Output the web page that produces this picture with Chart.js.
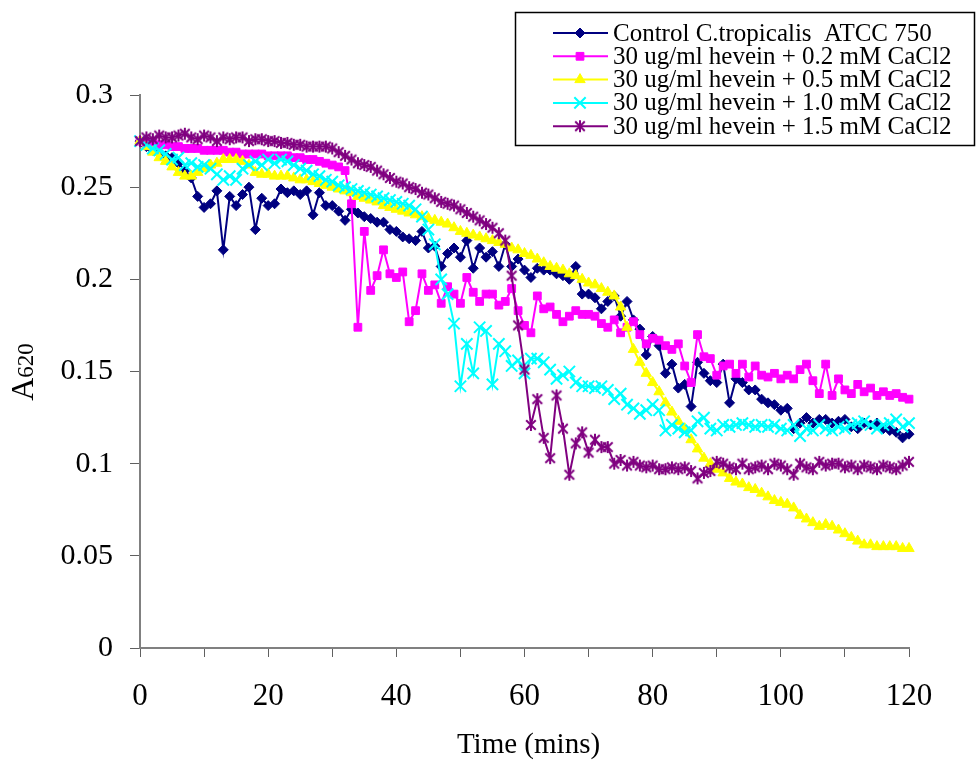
<!DOCTYPE html>
<html>
<head>
<meta charset="utf-8">
<title>Hevein + CaCl2 growth curves</title>
<script src="https://cdn.jsdelivr.net/npm/chart.js"></script>
<style>
  html, body { margin: 0; padding: 0; background: #fff; }
  #wrap { width: 978px; height: 761px; }
</style>
</head>
<body>
<div id="wrap"><canvas id="growth" width="978" height="761"></canvas></div>
<script>
// one A620 reading per minute
const minutes = [
  0, 1, 2, 3, 4, 5, 6, 7, 8, 9,
  10, 11, 12, 13, 14, 15, 16, 17, 18, 19,
  20, 21, 22, 23, 24, 25, 26, 27, 28, 29,
  30, 31, 32, 33, 34, 35, 36, 37, 38, 39,
  40, 41, 42, 43, 44, 45, 46, 47, 48, 49,
  50, 51, 52, 53, 54, 55, 56, 57, 58, 59,
  60, 61, 62, 63, 64, 65, 66, 67, 68, 69,
  70, 71, 72, 73, 74, 75, 76, 77, 78, 79,
  80, 81, 82, 83, 84, 85, 86, 87, 88, 89,
  90, 91, 92, 93, 94, 95, 96, 97, 98, 99,
  100, 101, 102, 103, 104, 105, 106, 107, 108, 109,
  110, 111, 112, 113, 114, 115, 116, 117, 118, 119,
  120
];

const seriesNames = [
  "Control C.tropicalis  ATCC 750",
  "30 ug/ml hevein + 0.2 mM CaCl2",
  "30 ug/ml hevein + 0.5 mM CaCl2",
  "30 ug/ml hevein + 1.0 mM CaCl2",
  "30 ug/ml hevein + 1.5 mM CaCl2"
];

const control = [
  .275, .272, .270, .268, .267, .266, .263, .259, .255, .245,
  .239, .241, .248, .216, .245, .240, .246, .250, .227, .244,
  .240, .241, .249, .247, .248, .246, .248, .235, .247, .240,
  .240, .237, .232, .238, .236, .234, .233, .231, .231, .227,
  .226, .223, .222, .221, .226, .217, .218, .207, .214, .217,
  .212, .221, .206, .217, .212, .215, .207, .219, .207, .211,
  .205, .201, .206, .205, .205, .203, .202, .200, .207, .192,
  .192, .190, .184, .188, .191, .180, .188, .178, .173, .159,
  .169, .164, .149, .154, .141, .143, .131, .155, .149, .145,
  .144, .154, .133, .146, .144, .140, .140, .135, .133, .132,
  .129, .130, .119, .122, .125, .122, .124, .124, .122, .123,
  .124, .120, .119, .122, .121, .122, .119, .118, .117, .114,
  .116
];

const ca02 = [
  .275, .274, .274, .273, .273, .272, .272, .271, .271, .271,
  .270, .270, .270, .270, .269, .269, .268, .268, .268, .268,
  .267, .267, .267, .267, .266, .266, .265, .265, .264, .263,
  .262, .261, .259, .241, .174, .226, .194, .202, .216, .203,
  .201, .204, .177, .183, .203, .194, .197, .187, .196, .192,
  .187, .201, .193, .188, .192, .192, .186, .188, .195, .183,
  .175, .171, .191, .184, .185, .181, .177, .180, .183, .181,
  .181, .180, .176, .174, .178, .171, .174, .177, .170, .165,
  .168, .167, .164, .162, .165, .153, .144, .170, .158, .157,
  .148, .153, .154, .149, .154, .147, .153, .148, .147, .149,
  .146, .148, .146, .151, .154, .145, .138, .154, .137, .146,
  .140, .138, .143, .139, .141, .137, .139, .137, .138, .136,
  .135
];

const ca05 = [
  .275, .272, .269, .266, .264, .261, .258, .256, .256, .258,
  .260, .262, .263, .265, .265, .265, .264, .262, .258, .257,
  .257, .256, .256, .256, .255, .254, .254, .253, .252, .251,
  .250, .249, .248, .247, .245, .244, .243, .242, .240, .239,
  .238, .237, .236, .235, .234, .233, .232, .231, .230, .228,
  .226, .225, .224, .223, .222, .221, .220, .219, .217, .216,
  .214, .213, .211, .209, .207, .206, .205, .203, .202, .200,
  .198, .197, .195, .193, .191, .185, .174, .162, .155, .149,
  .144, .139, .133, .128, .123, .119, .113, .108, .103, .100,
  .097, .095, .092, .090, .089, .087, .086, .084, .082, .080,
  .079, .078, .076, .072, .070, .068, .066, .067, .066, .064,
  .062, .060, .058, .056, .056, .055, .055, .055, .055, .054,
  .054
];

const ca10 = [
  .275, .273, .271, .270, .268, .265, .266, .262, .263, .261,
  .262, .260, .257, .254, .256, .254, .260, .262, .264, .262,
  .265, .263, .265, .264, .262, .260, .259, .257, .256, .254,
  .253, .251, .250, .249, .248, .247, .246, .245, .244, .243,
  .242, .241, .240, .238, .234, .227, .219, .200, .192, .176,
  .142, .165, .149, .174, .172, .143, .165, .161, .153, .156,
  .149, .157, .157, .155, .151, .146, .148, .150, .144, .142,
  .142, .141, .142, .140, .135, .138, .132, .130, .127, .129,
  .132, .129, .118, .121, .119, .117, .118, .123, .125, .119,
  .118, .121, .120, .121, .122, .121, .120, .121, .120, .121,
  .119, .118, .121, .115, .119, .118, .121, .119, .118, .120,
  .119, .121, .122, .123, .121, .119, .121, .122, .124, .120,
  .122
];

const ca15 = [
  .275, .277, .276, .278, .277, .277, .278, .279, .277, .276,
  .278, .277, .275, .277, .276, .277, .277, .275, .276, .276,
  .275, .275, .274, .274, .273, .273, .272, .272, .272, .272,
  .271, .269, .267, .265, .263, .262, .261, .259, .257, .255,
  .253, .252, .250, .249, .247, .246, .244, .242, .241, .240,
  .238, .236, .234, .232, .230, .228, .225, .221, .202, .175,
  .151, .121, .135, .114, .103, .137, .119, .094, .111, .117,
  .106, .113, .109, .109, .100, .102, .099, .101, .099, .098,
  .099, .097, .097, .098, .097, .098, .096, .092, .095, .096,
  .101, .100, .098, .097, .100, .097, .098, .099, .097, .100,
  .099, .097, .094, .100, .098, .097, .101, .099, .100, .100,
  .098, .099, .097, .099, .098, .097, .099, .098, .097, .099,
  .101
];

const yTicks = [0, 0.05, 0.1, 0.15, 0.2, 0.25, 0.3];
const xTickMarks = [0, 10, 20, 30, 40, 50, 60, 70, 80, 90, 100, 110, 120];
const xLabels = [0, 20, 40, 60, 80, 100, 120];

const SERIF = "'Liberation Serif', 'Times New Roman', serif";

// Excel-style asterisk: an X with a vertical bar through it
function asteriskMarker(size, color) {
  const c = document.createElement('canvas');
  c.width = size;
  c.height = size;
  const g = c.getContext('2d');
  const m = size / 2, r = size / 2 - 1, d = r * 0.8;
  g.strokeStyle = color;
  g.lineWidth = 2;
  g.beginPath();
  g.moveTo(m - d, m - d); g.lineTo(m + d, m + d);
  g.moveTo(m + d, m - d); g.lineTo(m - d, m + d);
  g.moveTo(m, m - r); g.lineTo(m, m + r);
  g.stroke();
  return c;
}

function toPoints(values) {
  return minutes.map((t, i) => ({ x: t, y: values[i] }));
}

const styles = [
  { color: '#000080', pointStyle: 'rectRot', radius: 5, pointBorder: 1 },
  { color: '#ff00ff', pointStyle: 'rect', radius: 5.5, pointBorder: 1 },
  { color: '#ffff00', pointStyle: 'triangle', radius: 6, pointBorder: 1 },
  { color: '#00ffff', pointStyle: 'crossRot', radius: 8, pointBorder: 2 },
  { color: '#800080', pointStyle: asteriskMarker(14, '#800080'), radius: 7, pointBorder: 2 }
];

const allValues = [control, ca02, ca05, ca10, ca15];

const datasets = allValues.map((vals, i) => ({
  label: seriesNames[i],
  data: toPoints(vals),
  borderColor: styles[i].color,
  backgroundColor: styles[i].color,
  borderWidth: 2,
  pointStyle: styles[i].pointStyle,
  pointRadius: styles[i].radius,
  pointBorderWidth: styles[i].pointBorder,
  pointBackgroundColor: styles[i].color,
  pointBorderColor: styles[i].color,
  tension: 0,
  clip: false,
  // later series sit on top, as in the spreadsheet
  order: allValues.length - i
}));

// axis titles and the boxed legend
const decorations = {
  id: 'decorations',
  afterDraw(chart) {
    const ctx = chart.ctx;
    const area = chart.chartArea;
    ctx.save();
    ctx.fillStyle = '#000';

    // x title
    ctx.font = '29px ' + SERIF;
    ctx.textAlign = 'center';
    ctx.textBaseline = 'middle';
    ctx.fillText('Time (mins)', (area.left + area.right) / 2 + 4, 745);

    // y title, A with smaller 620 on the same baseline
    ctx.save();
    ctx.translate(33, 372);
    ctx.rotate(-Math.PI / 2);
    ctx.textAlign = 'left';
    ctx.textBaseline = 'alphabetic';
    ctx.font = '32px ' + SERIF;
    const wA = ctx.measureText('A').width;
    ctx.font = '23px ' + SERIF;
    const wSub = ctx.measureText('620').width;
    const start = -(wA + wSub) / 2;
    ctx.font = '32px ' + SERIF;
    ctx.fillText('A', start, 0);
    ctx.font = '23px ' + SERIF;
    ctx.fillText('620', start + wA, 0);
    ctx.restore();

    // legend
    ctx.strokeStyle = '#000';
    ctx.lineWidth = 1.5;
    ctx.strokeRect(515.5, 12.5, 459, 133);
    ctx.font = '25px ' + SERIF;
    ctx.textAlign = 'left';
    ctx.textBaseline = 'middle';
    chart.data.datasets.forEach((ds, i) => {
      const y = 33 + i * 23.3;
      ctx.strokeStyle = ds.borderColor;
      ctx.lineWidth = 2;
      ctx.beginPath();
      ctx.moveTo(553, y);
      ctx.lineTo(608, y);
      ctx.stroke();
      ctx.fillStyle = ds.pointBackgroundColor;
      ctx.strokeStyle = ds.pointBorderColor;
      ctx.lineWidth = ds.pointBorderWidth;
      Chart.helpers.drawPoint(ctx, {
        pointStyle: ds.pointStyle,
        radius: ds.pointRadius,
        rotation: 0,
        borderWidth: ds.pointBorderWidth
      }, 580, y);
      ctx.fillStyle = '#000';
      ctx.fillText(ds.label, 613, y + 1);
    });
    ctx.restore();
  }
};

new Chart(document.getElementById('growth'), {
  type: 'line',
  data: { datasets },
  options: {
    responsive: false,
    devicePixelRatio: 1,
    animation: false,
    layout: { padding: { top: 95, right: 69, bottom: 0, left: 0 } },
    plugins: {
      legend: { display: false },
      tooltip: { enabled: false }
    },
    scales: {
      x: {
        type: 'linear',
        min: 0,
        max: 120,
        afterBuildTicks: scale => { scale.ticks = xTickMarks.map(v => ({ value: v })); },
        afterFit: scale => { scale.height = 113; },
        border: { color: '#808080', width: 2 },
        grid: { drawOnChartArea: false, drawTicks: true, tickLength: 9, color: '#606060', lineWidth: 1 },
        ticks: {
          autoSkip: false,
          maxRotation: 0,
          padding: 21,
          color: '#000',
          font: { family: SERIF, size: 31 },
          callback: v => xLabels.includes(v) ? String(v) : ''
        }
      },
      y: {
        min: 0,
        max: 0.3,
        afterBuildTicks: scale => { scale.ticks = yTicks.map(v => ({ value: v })); },
        afterFit: scale => { scale.width = 140; },
        border: { color: '#808080', width: 2 },
        grid: { drawOnChartArea: false, drawTicks: true, tickLength: 10, color: '#606060', lineWidth: 1 },
        ticks: {
          padding: 17,
          color: '#000',
          font: { family: SERIF, size: 30 },
          callback: v => String(+v.toFixed(2))
        }
      }
    }
  },
  plugins: [decorations]
});
</script>
</body>
</html>
